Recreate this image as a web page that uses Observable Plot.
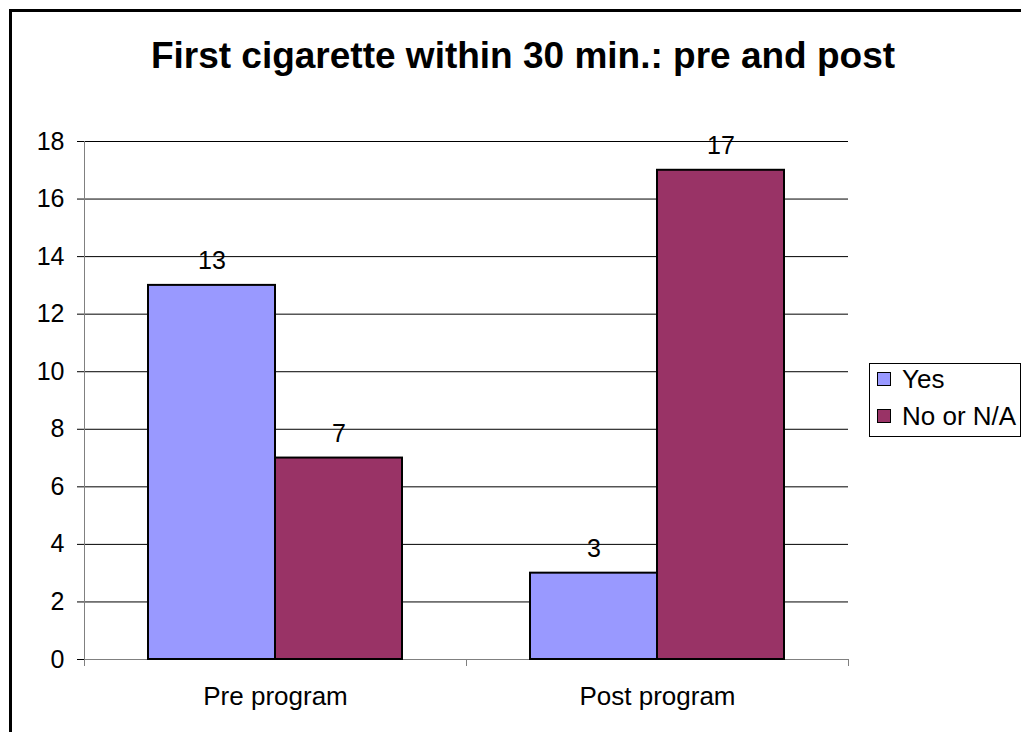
<!DOCTYPE html>
<html><head><meta charset="utf-8">
<script src="https://cdn.jsdelivr.net/npm/d3@7"></script>
<script src="https://cdn.jsdelivr.net/npm/@observablehq/plot@0.6"></script>
<style>
html,body{margin:0;padding:0;background:#fff;overflow:hidden;}
#page{position:relative;width:1021px;height:732px;overflow:hidden;font-family:"Liberation Sans",Arial,sans-serif;color:#000;}
#border{position:absolute;left:9px;top:9px;width:1100px;height:800px;border:3px solid #000;}
#title{position:absolute;left:0;width:1046px;top:37px;text-align:center;font-weight:bold;font-size:37px;line-height:37px;white-space:nowrap;}
#chart{position:absolute;left:0;top:110px;}
#legend{position:absolute;left:869px;top:363px;width:152px;height:74px;box-sizing:border-box;border:1px solid #000;background:#fff;}
.row{position:absolute;left:0;height:14px;width:100%;}
.sw{position:absolute;left:7px;top:0;width:14px;height:14px;box-sizing:border-box;border:1.5px solid #000;}
.lt{position:absolute;left:32px;top:0;line-height:14px;font-size:26px;white-space:nowrap;}
</style>
</head><body>
<div id="page">
  <div id="border"></div>
  <div id="title"></div>
  <div id="chart"></div>
  <div id="legend"></div>
</div>
<script>
const titleText = "First cigarette within 30 min.: pre and post";
const categories = ["Pre program", "Post program"];
const series = ["Yes", "No or N/A"];
const yesValues = [13, 3];
const noValues = [7, 17];
const colors = ["#9999FF", "#993366"];
const yTicks = [0, 2, 4, 6, 8, 10, 12, 14, 16, 18];

const data = categories.flatMap((c, i) => [
  {cat: c, series: series[0], value: yesValues[i]},
  {cat: c, series: series[1], value: noValues[i]}
]);

document.getElementById("title").textContent = titleText;

const chart = Plot.plot({
  width: 1021, height: 610,
  marginLeft: 83, marginRight: 173, marginTop: 31, marginBottom: 61,
  style: {fontFamily: '"Liberation Sans", Arial, sans-serif', fontSize: "25px", color: "#000", background: "transparent", overflow: "visible"},
  fx: {domain: categories, padding: 0, label: null},
  x: {domain: series, paddingInner: 0, paddingOuter: 0.5, axis: null},
  y: {domain: [0, 18], label: null},
  color: {domain: series, range: colors},
  marks: [
    Plot.gridY(yTicks.filter(d => d > 0), {stroke: "#000", strokeOpacity: 1}),
    Plot.axisY(yTicks, {tickSize: 7, tickPadding: 13, stroke: "#000", label: null, fontSize: 25}),
    Plot.axisFx({anchor: "bottom", tickSize: 0, tickPadding: 27, label: null, fontSize: 26}),
    Plot.ruleY([0], {stroke: "#808080"}),
    Plot.barY(data, {fx: "cat", x: "series", y: "value", fill: "series", stroke: "#000", strokeWidth: 2}),
    Plot.text(data, {fx: "cat", x: "series", y: "value", text: d => String(d.value), lineAnchor: "bottom", dy: -16, fontSize: 25, fill: "#000"})
  ]
});

// y-axis line and category boundary ticks, positioned with the chart's own scales
const fxs = chart.scale("fx");
const ys = chart.scale("y");
const svg = d3.select(chart.tagName.toLowerCase() === "svg" ? chart : chart.querySelector("svg"));
const y0 = ys.apply(0), yTop = ys.apply(18);
const left = fxs.apply(categories[0]);
const g = svg.append("g").attr("stroke", "#808080").attr("stroke-width", 1);
g.append("line").attr("x1", left + 0.5).attr("x2", left + 0.5).attr("y1", yTop).attr("y2", y0);
const bounds = [left, ...categories.map(c => fxs.apply(c) + fxs.bandwidth)];
bounds.forEach(b => {
  g.append("line").attr("x1", b + 0.5).attr("x2", b + 0.5).attr("y1", y0).attr("y2", y0 + 7);
});

document.getElementById("chart").appendChild(chart);

// legend
const legend = document.getElementById("legend");
const rowTops = [8, 45];
series.forEach((s, i) => {
  const row = document.createElement("div");
  row.className = "row";
  row.style.top = rowTops[i] + "px";
  const sw = document.createElement("div");
  sw.className = "sw";
  sw.style.background = colors[i];
  const t = document.createElement("div");
  t.className = "lt";
  t.textContent = s;
  row.appendChild(sw); row.appendChild(t);
  legend.appendChild(row);
});
</script>
</body></html>
